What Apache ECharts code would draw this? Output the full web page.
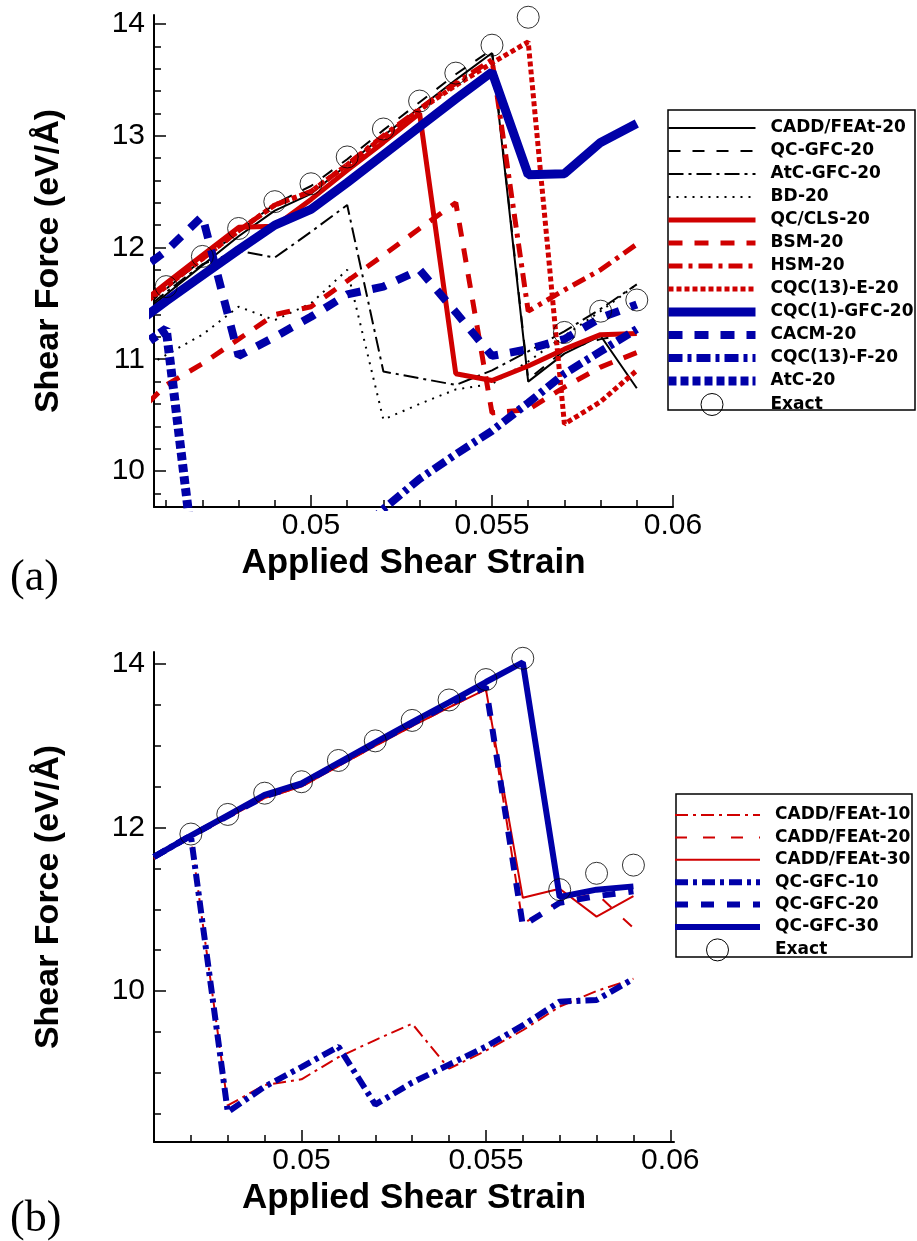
<!DOCTYPE html>
<html lang="en">
<head>
<meta charset="UTF-8">
<title>Shear force vs applied shear strain</title>
<script src="https://cdn.jsdelivr.net/npm/echarts@6/dist/echarts.min.js"></script>
<style>
  body { margin: 0; background: #fff; }
  #chartA { position: absolute; left: 0; top: 0; width: 917px; height: 620px; }
  #chartB { position: absolute; left: 0; top: 620px; width: 917px; height: 621px; }
</style>
</head>
<body>
<div id="chartA"></div>
<div id="chartB"></div>
<script>
// applied shear strain (x)
var strainA = [0.045, 0.046, 0.047, 0.048, 0.049, 0.050, 0.051, 0.052, 0.053, 0.054, 0.055, 0.056, 0.057, 0.058, 0.059];
var strainB = [0.046, 0.047, 0.048, 0.049, 0.050, 0.051, 0.052, 0.053, 0.054, 0.055, 0.056, 0.057, 0.058, 0.059];
var exactStrainA = [0.046, 0.047, 0.048, 0.049, 0.050, 0.051, 0.052, 0.053, 0.054, 0.055, 0.056, 0.057, 0.058, 0.059];
var exactStrainB = [0.047, 0.048, 0.049, 0.050, 0.051, 0.052, 0.053, 0.054, 0.055, 0.056, 0.057, 0.058, 0.059];

// exact solution
var exactA = [11.65, 11.92, 12.17, 12.41, 12.57, 12.81, 13.06, 13.31, 13.56, 13.81, 14.06, 11.24, 11.43, 11.53];
var exactB = [11.92, 12.16, 12.42, 12.56, 12.82, 13.06, 13.31, 13.56, 13.81, 14.07, 11.24, 11.44, 11.54];

// panel (a): one value per strainA
var caddFeat20A = [11.32, 11.58, 11.84, 12.10, 12.33, 12.48, 12.74, 13.00, 13.25, 13.50, 13.74, 10.80, 11.05, 11.21, 10.74];
var qcGfc20A    = [11.36, 11.63, 11.89, 12.14, 12.39, 12.55, 12.79, 13.05, 13.30, 13.55, 13.77, 10.82, 11.08, 11.18, 11.24];
var atcGfc20A   = [11.34, 11.60, 11.85, 11.97, 11.91, 12.14, 12.38, 10.89, 10.83, 10.77, 10.90, 11.07, 11.25, 11.45, 11.67];
var bd20A       = [10.85, 11.04, 11.22, 11.47, 11.35, 11.50, 11.80, 10.46, 10.60, 10.73, 10.78, 10.98, 11.21, 11.43, 11.67];
var qcCls20A    = [11.42, 11.68, 11.93, 12.18, 12.19, 12.43, 12.69, 12.94, 13.20, 10.87, 10.81, 10.94, 11.09, 11.22, 11.23];
var bsm20A      = [10.45, 10.77, 10.96, 11.18, 11.40, 11.47, 11.70, 11.93, 12.17, 12.40, 10.52, 10.55, 10.75, 10.93, 11.06];
var hsm20A      = [11.40, 11.66, 11.90, 12.15, 12.38, 12.50, 12.74, 13.00, 13.24, 13.47, 13.68, 11.43, 11.62, 11.80, 12.03];
var cqc13E20A   = [11.40, 11.65, 11.90, 12.15, 12.38, 12.50, 12.74, 12.99, 13.23, 13.45, 13.65, 13.84, 10.42, 10.62, 10.90];
var cqc1Gfc20A  = [11.28, 11.52, 11.75, 11.98, 12.20, 12.34, 12.58, 12.83, 13.08, 13.33, 13.57, 12.65, 12.66, 12.94, 13.11];
var cacm20A     = [11.73, 11.97, 12.28, 11.03, 11.20, 11.38, 11.58, 11.65, 11.80, 11.42, 11.03, 11.09, 11.18, 11.37, 11.49];
var cqc13F20A   = [null, null, null, 8.60, 8.85, 9.05, 9.35, 9.66, 9.93, 10.15, 10.36, 10.61, 10.87, 11.07, 11.27];
var atc20A      = [11.05, 11.27, 8.60, 8.55, null, null, null, null, null, null, null, null, null, null, null];

// panel (b): one value per strainB
var caddFeat10B = [11.62, 11.88, 8.60, 8.85, 8.92, 9.19, 9.40, 9.60, 9.05, 9.27, 9.52, 9.81, 10.00, 10.15];
var caddFeat20B = [11.62, 11.88, 12.12, 12.36, 12.50, 12.75, 13.00, 13.24, 13.47, 13.69, 10.82, 11.10, 11.19, 10.77];
var caddFeat30B = [11.62, 11.88, 12.12, 12.36, 12.50, 12.75, 13.00, 13.24, 13.47, 13.69, 11.14, 11.25, 10.91, 11.16];
var qcGfc10B    = [11.64, 11.90, 8.52, 8.83, 9.07, 9.32, 8.61, 8.88, 9.10, 9.32, 9.58, 9.87, 9.89, 10.15];
var qcGfc20B    = [11.64, 11.90, 12.14, 12.38, 12.53, 12.78, 13.03, 13.27, 13.51, 13.72, 10.80, 11.08, 11.16, 11.22];
var qcGfc30B    = [11.64, 11.90, 12.15, 12.40, 12.54, 12.79, 13.04, 13.29, 13.53, 13.78, 14.02, 11.15, 11.24, 11.28];

// ticks
var xMajor  = [0.05, 0.055, 0.06];
var xMinorA = [0.046, 0.047, 0.048, 0.049, 0.051, 0.052, 0.053, 0.054, 0.056, 0.057, 0.058, 0.059];
var xMinorB = [0.047, 0.048, 0.049, 0.051, 0.052, 0.053, 0.054, 0.056, 0.057, 0.058, 0.059];
var yMajorA = [10, 11, 12, 13, 14];
var yMinorA = [9.8, 10.2, 10.4, 10.6, 10.8, 11.2, 11.4, 11.6, 11.8, 12.2, 12.4, 12.6, 12.8, 13.2, 13.4, 13.6, 13.8];
var yMajorB = [10, 12, 14];
var yMinorB = [8.5, 9, 9.5, 10.5, 11, 11.5, 12.5, 13, 13.5];

var RED = '#d00000';
var BLUE = '#0000a8';
var SANS = '"Liberation Sans", Arial, sans-serif';

function pairs(xs, ys) {
    var out = [];
    xs.forEach(function (x, i) {
        if (ys[i] !== null) out.push([x, ys[i]]);
    });
    return out;
}

function line(name, xs, ys, color, width, dash) {
    return {
        name: name,
        type: 'line',
        data: pairs(xs, ys),
        symbol: 'none',
        animation: false,
        lineStyle: { color: color, width: width, type: dash || 'solid' },
        itemStyle: { color: color }
    };
}

function exact(xs, ys) {
    return {
        name: 'Exact',
        type: 'scatter',
        data: pairs(xs, ys),
        symbol: 'circle',
        symbolSize: 22,
        animation: false,
        z: 5,
        itemStyle: { color: 'rgba(0,0,0,0)', borderColor: '#000', borderWidth: 1 }
    };
}

function xAxes(min, max, minor) {
    return [{
        type: 'value', position: 'bottom', min: min, max: max,
        name: 'Applied Shear Strain', nameLocation: 'middle', nameGap: 28,
        nameTextStyle: { fontFamily: SANS, fontWeight: 'bold', fontSize: 35, color: '#000' },
        axisLine: { onZero: false, lineStyle: { color: '#000', width: 2 } },
        axisTick: { inside: true, length: 12, customValues: xMajor, lineStyle: { color: '#000', width: 1.5 } },
        axisLabel: { customValues: xMajor, margin: 4, fontFamily: SANS, fontSize: 30, color: '#000' },
        splitLine: { show: false }
    }, {
        type: 'value', position: 'bottom', min: min, max: max,
        axisLine: { show: false },
        axisTick: { inside: true, length: 7, customValues: minor, lineStyle: { color: '#000', width: 1.5 } },
        axisLabel: { show: false },
        splitLine: { show: false }
    }];
}

function yAxes(min, max, major, minor) {
    return [{
        type: 'value', position: 'left', min: min, max: max,
        name: 'Shear Force (eV/Å)', nameLocation: 'middle', nameGap: 88,
        nameTextStyle: { fontFamily: SANS, fontWeight: 'bold', fontSize: 34, color: '#000' },
        axisLine: { onZero: false, lineStyle: { color: '#000', width: 2 } },
        axisTick: { inside: true, length: 12, customValues: major, lineStyle: { color: '#000', width: 1.5 } },
        axisLabel: { customValues: major, margin: 9, fontFamily: SANS, fontSize: 30, color: '#000' },
        splitLine: { show: false }
    }, {
        type: 'value', position: 'left', min: min, max: max,
        axisLine: { show: false },
        axisTick: { inside: true, length: 7, customValues: minor, lineStyle: { color: '#000', width: 1.5 } },
        axisLabel: { show: false },
        splitLine: { show: false }
    }];
}

function legend(left, top, itemWidth, itemGap, names) {
    var data = names.map(function (n) { return n; });
    data.push({
        name: 'Exact', icon: 'circle',
        itemStyle: { opacity: 1, color: 'rgba(0,0,0,0)', borderColor: '#000', borderWidth: 1 }
    });
    return {
        orient: 'vertical', left: left, top: top, padding: 0,
        itemWidth: itemWidth, itemHeight: 22, itemGap: itemGap,
        selectedMode: false,
        itemStyle: { opacity: 0 },
        lineStyle: { width: 'inherit' },
        textStyle: {
            fontFamily: '"DejaVu Sans", sans-serif', fontWeight: 'bold', fontSize: 17,
            lineHeight: 22, color: '#000', padding: [0, 0, 0, 10]
        },
        data: data
    };
}

function boxAndTag(box, tag, tagY) {
    return [{
        type: 'rect', z: 1,
        shape: { x: box[0], y: box[1], width: box[2], height: box[3] },
        style: { fill: '#fff', stroke: '#000', lineWidth: 1.5 }
    }, {
        type: 'text', left: 10, top: tagY,
        style: { text: tag, fontFamily: '"Liberation Serif", serif', fontSize: 44, fill: '#000' }
    }];
}

// panel (a)
var chartA = echarts.init(document.getElementById('chartA'));
var namesA = ['CADD/FEAt-20', 'QC-GFC-20', 'AtC-GFC-20', 'BD-20', 'QC/CLS-20', 'BSM-20', 'HSM-20',
    'CQC(13)-E-20', 'CQC(1)-GFC-20', 'CACM-20', 'CQC(13)-F-20', 'AtC-20'];
chartA.setOption({
    backgroundColor: '#fff',
    grid: { left: 154, top: 15, width: 519, height: 492 },
    xAxis: xAxes(0.045663, 0.06, xMinorA),
    yAxis: yAxes(9.678, 14.08, yMajorA, yMinorA),
    legend: legend(664, 117, 87, 1, namesA),
    graphic: boxAndTag([668, 110, 247, 300], '(a)', 556),
    series: [
        line('CADD/FEAt-20', strainA, caddFeat20A, '#000', 2),
        line('QC-GFC-20', strainA, qcGfc20A, '#000', 2, [12, 12]),
        line('AtC-GFC-20', strainA, atcGfc20A, '#000', 2, [15, 5, 3, 5]),
        line('BD-20', strainA, bd20A, '#000', 2, [2, 6]),
        line('QC/CLS-20', strainA, qcCls20A, RED, 5),
        line('BSM-20', strainA, bsm20A, RED, 5, [14, 12]),
        line('HSM-20', strainA, hsm20A, RED, 5, [14, 6, 4, 6]),
        line('CQC(13)-E-20', strainA, cqc13E20A, RED, 5, [5, 3]),
        line('CQC(1)-GFC-20', strainA, cqc1Gfc20A, BLUE, 9),
        line('CACM-20', strainA, cacm20A, BLUE, 8, [14, 12]),
        line('CQC(13)-F-20', strainA, cqc13F20A, BLUE, 8, [14, 5, 4, 5]),
        line('AtC-20', strainA, atc20A, BLUE, 9, [8, 4]),
        exact(exactStrainA, exactA)
    ]
});

// panel (b)
var chartB = echarts.init(document.getElementById('chartB'));
var namesB = ['CADD/FEAt-10', 'CADD/FEAt-20', 'CADD/FEAt-30', 'QC-GFC-10', 'QC-GFC-20', 'QC-GFC-30'];
chartB.setOption({
    backgroundColor: '#fff',
    grid: { left: 154, top: 32, width: 520, height: 490 },
    xAxis: xAxes(0.046, 0.0601, xMinorB),
    yAxis: yAxes(8.153, 14.147, yMajorB, yMinorB),
    legend: legend(672, 184, 85, 0.4, namesB),
    graphic: boxAndTag([676, 174, 236, 163], '(b)', 577),
    series: [
        line('CADD/FEAt-10', strainB, caddFeat10B, RED, 2, [13, 5, 3, 5]),
        line('CADD/FEAt-20', strainB, caddFeat20B, RED, 2, [12, 16]),
        line('CADD/FEAt-30', strainB, caddFeat30B, RED, 2),
        line('QC-GFC-10', strainB, qcGfc10B, BLUE, 6, [13, 5, 4, 5]),
        line('QC-GFC-20', strainB, qcGfc20B, BLUE, 6, [13, 13]),
        line('QC-GFC-30', strainB, qcGfc30B, BLUE, 6),
        exact(exactStrainB, exactB)
    ]
});
</script>
</body>
</html>
